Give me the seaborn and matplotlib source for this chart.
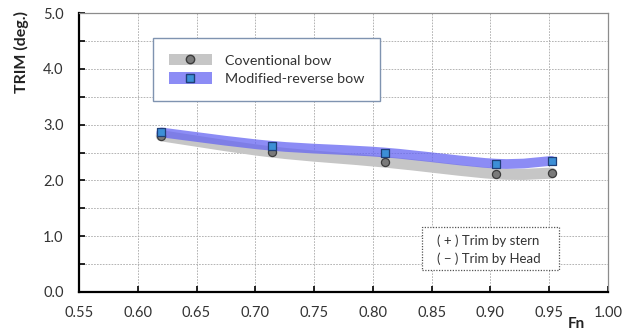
import numpy as np
import pandas as pd
import matplotlib
matplotlib.use("Agg")
import matplotlib.pyplot as plt
import seaborn as sns
from matplotlib.path import Path
from matplotlib.patches import PathPatch, Patch, Rectangle
from matplotlib.lines import Line2D
from matplotlib.ticker import MultipleLocator, FormatStrFormatter

# data
fn = [0.620, 0.714, 0.810, 0.905, 0.952]
trim_conventional = [2.80, 2.51, 2.33, 2.12, 2.13]
trim_modified = [2.86, 2.62, 2.50, 2.30, 2.35]
series_names = ["Coventional bow", "Modified-reverse bow"]
note_lines = ["( + ) Trim by stern", "( \u2212 ) Trim by Head"]

sns.set_theme(style="white")
plt.rcParams['font.family'] = ['Lato', 'DejaVu Sans']


def smooth_path(xs, ys):
    # catmull-rom through the points, drawn as cubic bezier segments
    pts = np.column_stack([xs, ys])
    ext = np.vstack([pts[0], pts, pts[-1]])
    verts = [pts[0]]
    codes = [Path.MOVETO]
    for i in range(1, len(ext) - 2):
        p0, p1, p2, p3 = ext[i - 1], ext[i], ext[i + 1], ext[i + 2]
        c1 = p1 + (p2 - p0) / 6.0
        c2 = p2 - (p3 - p1) / 6.0
        verts += [c1, c2, p2]
        codes += [Path.CURVE4] * 3
    return Path(verts, codes)


df = pd.DataFrame({"Fn": fn * 2,
                   "TRIM": trim_conventional + trim_modified,
                   "hull": [series_names[0]] * len(fn) + [series_names[1]] * len(fn)})

fig = plt.figure(figsize=(6.31, 3.32), dpi=100)
ax = fig.add_axes([0.1252, 0.1205, 0.8383, 0.8403])

gray_band = "#c6c6c6"
blue_band = (0.40, 0.40, 0.95, 0.75)

ax.add_patch(PathPatch(smooth_path(fn, trim_conventional), fill=False, lw=8,
                       edgecolor=gray_band, capstyle="round", zorder=2))
ax.add_patch(PathPatch(smooth_path(fn, trim_modified), fill=False, lw=7,
                       edgecolor=blue_band, capstyle="round", zorder=3))

sub = df[df.hull == series_names[0]]
sns.scatterplot(data=sub, x="Fn", y="TRIM", marker="o", s=34, color="#7a7a7a",
                edgecolor="#3c3c3c", linewidth=0.9, ax=ax, zorder=4, legend=False)
sub = df[df.hull == series_names[1]]
sns.scatterplot(data=sub, x="Fn", y="TRIM", marker="s", s=30, color="#3c8fd6",
                edgecolor="#1f3f78", linewidth=0.9, ax=ax, zorder=5, legend=False)

ax.set_xlim(0.55, 1.00)
ax.set_ylim(0.0, 5.0)
ax.xaxis.set_major_locator(MultipleLocator(0.05))
ax.xaxis.set_major_formatter(FormatStrFormatter("%.2f"))
ax.yaxis.set_major_locator(MultipleLocator(1.0))
ax.yaxis.set_minor_locator(MultipleLocator(0.5))
ax.yaxis.set_major_formatter(FormatStrFormatter("%.1f"))
ax.grid(True, which="both", color="#a8a8a8", linestyle=(0, (2, 1.5)), linewidth=0.6)
ax.tick_params(axis="both", which="both", direction="in", length=4, width=1.2,
               color="black", labelsize=10.5, labelcolor="#333333",
               left=True, bottom=True)
ax.tick_params(axis="x", pad=10)
ax.tick_params(axis="y", pad=11)
ax.tick_params(axis="y", which="minor", length=4)
ax.set_xlabel("")
ax.set_ylabel("TRIM (deg.)", fontsize=11.5, fontweight="bold", color="#222222")
ax.yaxis.set_label_coords(-0.094, 0.862)

for side in ["left", "bottom"]:
    ax.spines[side].set_color("black")
    ax.spines[side].set_linewidth(1.6)
for side in ["top", "right"]:
    ax.spines[side].set_color("#8c8c8c")
    ax.spines[side].set_linewidth(0.9)

fig.text(0.914, 0.024, "Fn", fontsize=11, fontweight="bold", color="#222222",
         ha="center", va="center")

handles = [
    (Patch(facecolor=gray_band, edgecolor="none"),
     Line2D([], [], marker="o", ls="none", markersize=6, markerfacecolor="#7a7a7a",
            markeredgecolor="#3c3c3c")),
    (Patch(facecolor=blue_band, edgecolor="none"),
     Line2D([], [], marker="s", ls="none", markersize=5.5, markerfacecolor="#3c8fd6",
            markeredgecolor="#1f3f78")),
]
leg = ax.legend(handles, series_names, loc="upper left", bbox_to_anchor=(0.14, 0.91),
                borderaxespad=0, fontsize=10.3, handlelength=3.0, handleheight=0.85,
                handletextpad=0.9, labelspacing=0.4, borderpad=1.1, frameon=True,
                fancybox=False, framealpha=1)
leg.get_frame().set_edgecolor("#7f93b0")
leg.get_frame().set_linewidth(1.0)
for t in leg.get_texts():
    t.set_color("#333333")

# dotted note box
ax.add_patch(Rectangle((0.648, 0.079), 0.259, 0.154, transform=ax.transAxes,
                       facecolor="white", edgecolor="#555555", linestyle=(0, (1, 1.2)),
                       linewidth=0.9, zorder=6))
ax.text(0.677, 0.152, "\n".join(note_lines), transform=ax.transAxes, fontsize=9.5,
        color="#333333", va="center", ha="left", linespacing=1.45, zorder=7)

fig.savefig("out.png", dpi=100)
